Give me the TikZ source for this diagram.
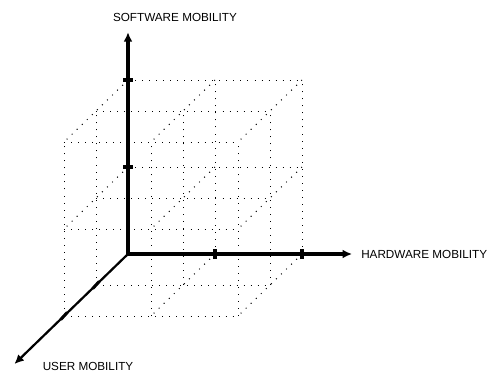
\documentclass[tikz,border=0pt]{standalone}
\usepackage{fontspec}
\setmainfont{Liberation Sans}
\usetikzlibrary{arrows.meta}
\usetikzlibrary{positioning}
\tikzstyle{cubegrid} = [line width=0.85pt, dash pattern=on 0.85pt off 5.15pt]
\tikzstyle{axisline} = [line width=2.8pt, -{Latex[length=8pt,width=7.5pt]}]
\tikzstyle{useraxis} = [line width=1.9pt, -{Latex[length=8pt,width=7.5pt]}]
\tikzstyle{axistick} = [line width=3.3pt]
\tikzstyle{axislabel} = [font=\fontsize{10}{12}\selectfont, inner sep=0pt]

\begin{document}
\begin{tikzpicture}[x={(2.61cm,0cm)}, y={(0cm,2.61cm)}, z={(-0.96cm,-0.93cm)}]

\useasboundingbox (-3.84cm,-3.57cm) rectangle (10.98cm,7.62cm);

% Dotted 2x2x2 lattice
\foreach \a in {0,1,2} {
  \foreach \b in {0,1,2} {
    \draw [cubegrid] (0,\a,\b) -- (2,\a,\b);
    \draw [cubegrid] (\a,0,\b) -- (\a,2,\b);
    \draw [cubegrid] (\a,\b,0) -- (\a,\b,2);
  }
}

% Axes
\coordinate (O) at (0,0,0);
\coordinate (hwtip) at (2.575,0,0);
\coordinate (swtip) at (0,2.55,0);
\coordinate (usertip) at (0,0,3.55);

\draw [axisline] (O) -- (hwtip);
\draw [axisline] (O) -- (swtip);
\draw [useraxis] (O) -- (usertip);

% Ticks
\draw [axistick] (1,0,0) ++(0,-0.15cm) -- ++(0,0.3cm);
\draw [axistick] (2,0,0) ++(0,-0.15cm) -- ++(0,0.3cm);
\draw [axistick] (0,1,0) ++(-0.15cm,0) -- ++(0.3cm,0);
\draw [axistick] (0,2,0) ++(-0.15cm,0) -- ++(0.3cm,0);
\draw [axistick, line width=2.6pt] (0,0,1) ++(-0.1cm,-0.11cm) -- ++(0.2cm,0.22cm);
\draw [axistick, line width=2.6pt] (0,0,2) ++(-0.1cm,-0.11cm) -- ++(0.2cm,0.22cm);

% Axis labels
\node (swlabel) [axislabel] at (1.41cm,7.11cm) {SOFTWARE MOBILITY};
\node (hwlabel) [axislabel, right=0.27cm of hwtip] {HARDWARE MOBILITY};
\node (userlabel) [axislabel] at (-1.2cm,-3.36cm) {USER MOBILITY};

\end{tikzpicture}
\end{document}
